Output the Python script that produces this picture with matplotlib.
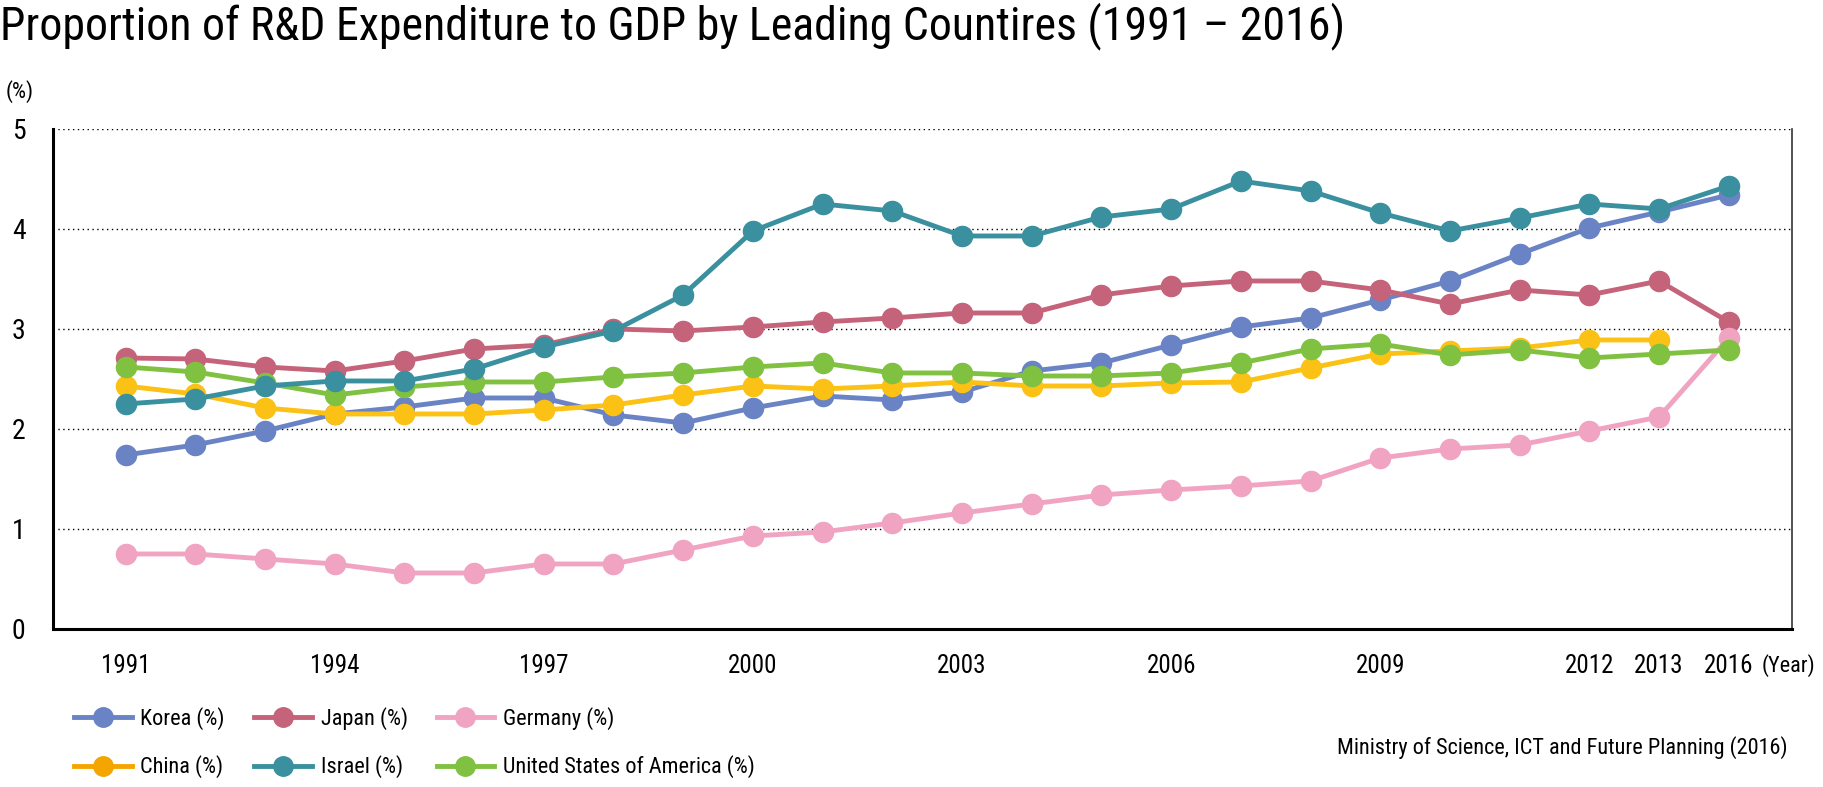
import numpy as np
import matplotlib
matplotlib.use("Agg")
import matplotlib.pyplot as plt
import matplotlib.transforms as mtrans
from matplotlib import font_manager
from matplotlib.lines import Line2D

# pick a narrow sans if one is installed
names = set(f.name for f in font_manager.fontManager.ttflist)
family = 'Liberation Sans'
for cand in ['Liberation Sans Narrow', 'Roboto Condensed', 'DejaVu Sans Condensed']:
    if cand in names:
        family = cand
        break
plt.rcParams['font.family'] = [family, 'DejaVu Sans']

years = ['1991', '1992', '1993', '1994', '1995', '1996', '1997', '1998', '1999', '2000',
         '2001', '2002', '2003', '2004', '2005', '2006', '2007', '2008', '2009', '2010',
         '2011', '2012', '2013', '2016']
shown = ['1991', '1994', '1997', '2000', '2003', '2006', '2009', '2012', '2013', '2016']

korea = [1.74, 1.84, 1.98, 2.15, 2.22, 2.31, 2.31, 2.14, 2.06, 2.21,
         2.33, 2.29, 2.37, 2.58, 2.66, 2.84, 3.02, 3.11, 3.29, 3.48,
         3.75, 4.01, 4.17, 4.34]
japan = [2.71, 2.70, 2.62, 2.58, 2.68, 2.80, 2.84, 3.00, 2.98, 3.02,
         3.07, 3.11, 3.16, 3.16, 3.34, 3.43, 3.48, 3.48, 3.39, 3.25,
         3.39, 3.34, 3.48, 3.07]
germany = [0.75, 0.75, 0.70, 0.65, 0.56, 0.56, 0.65, 0.65, 0.79, 0.93,
           0.97, 1.06, 1.16, 1.25, 1.34, 1.39, 1.43, 1.48, 1.71, 1.80,
           1.84, 1.98, 2.12, 2.91]
china = [2.43, 2.35, 2.21, 2.15, 2.15, 2.15, 2.19, 2.24, 2.34, 2.43,
         2.40, 2.43, 2.47, 2.43, 2.43, 2.46, 2.47, 2.61, 2.75, 2.78,
         2.81, 2.89, 2.89, np.nan]
israel = [2.25, 2.30, 2.43, 2.48, 2.48, 2.60, 2.82, 2.98, 3.34, 3.98,
          4.25, 4.18, 3.93, 3.93, 4.12, 4.20, 4.48, 4.38, 4.16, 3.98,
          4.11, 4.25, 4.20, 4.43]
usa = [2.62, 2.57, 2.46, 2.34, 2.42, 2.47, 2.47, 2.52, 2.56, 2.62,
       2.66, 2.56, 2.56, 2.53, 2.53, 2.56, 2.66, 2.80, 2.85, 2.74,
       2.79, 2.71, 2.75, 2.79]

series = [
    ('Korea (%)', korea, '#6a83c4'),
    ('Japan (%)', japan, '#c4637a'),
    ('Germany (%)', germany, '#f1a4c2'),
    ('China (%)', china, '#fcc115'),
    ('United States of America (%)', usa, '#80c142'),
    ('Israel (%)', israel, '#3a909f'),
]

fig = plt.figure(figsize=(18.24, 7.87), dpi=100)
ax = fig.add_axes([0.0293, 0.2008, 0.9529, 0.6353])

x = np.arange(len(years))
lines = {}
for name, vals, col in series:
    ln, = ax.plot(x, vals, color=col, lw=3.5, marker='o', ms=14.5, mec=col)
    lines[name] = ln

ax.set_xlim(-1.034, 23.9)
ax.set_ylim(0, 5)
ax.set_yticks([0, 1, 2, 3, 4, 5])
ax.set_yticklabels(['0', '1', '2', '3', '4', '5'], fontsize=20)
# y labels sit a little above their grid lines
shift = mtrans.ScaledTranslation(0, 4 / 72, fig.dpi_scale_trans)
for lab in ax.get_yticklabels():
    lab.set_transform(lab.get_transform() + shift)
ax.set_xticks([years.index(y) for y in shown])
ax.set_xticklabels(shown, fontsize=18)
ax.tick_params(length=0)
ax.tick_params(axis='x', pad=18)
ax.tick_params(axis='y', pad=20)
ax.grid(axis='y', color='black', ls=(0, (1, 2.5)), lw=1)
ax.set_axisbelow(True)
for s in ['left', 'bottom']:
    ax.spines[s].set_linewidth(2.2)
ax.spines['top'].set_visible(False)
ax.spines['right'].set_linewidth(1.2)
ax.spines['right'].set_color('#333333')

fig.text(0.0, 0.997, 'Proportion of R&D Expenditure to GDP by Leading Countires (1991 \u2013 2016)',
         fontsize=33, va='top', ha='left')
fig.text(0.003, 0.884, '(%)', fontsize=16, va='center', ha='left')
fig.text(0.966, 0.155, '(Year)', fontsize=16, va='center', ha='left')
fig.text(0.980, 0.05, 'Ministry of Science, ICT and Future Planning (2016)',
         fontsize=16, va='center', ha='right')

order = ['Korea (%)', 'China (%)', 'Japan (%)', 'Israel (%)', 'Germany (%)',
         'United States of America (%)']
handles = []
for name in order:
    col = lines[name].get_color()
    if name == 'China (%)':
        col = '#f5a500'
    handles.append(Line2D([], [], color=col, lw=3.5, marker='o', ms=14, mec=col))
fig.legend(handles, order, ncol=3, loc='upper left', bbox_to_anchor=(0.0356, 0.113),
           frameon=False, fontsize=16, handlelength=2.6, handletextpad=0.4,
           columnspacing=1.3, labelspacing=1.15, borderaxespad=0)

fig.savefig('out.png', dpi=100)
